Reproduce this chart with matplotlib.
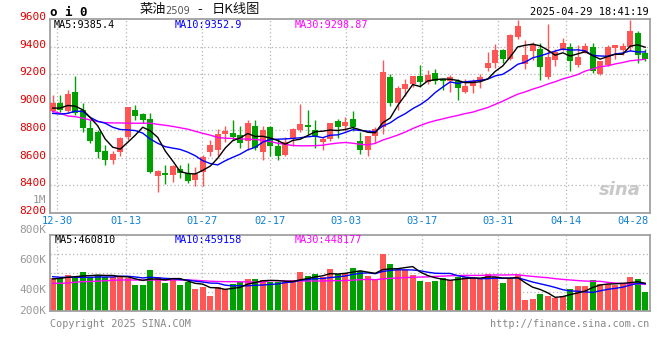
import numpy as np
import pandas as pd
import matplotlib
matplotlib.use("Agg")
import matplotlib.pyplot as plt
from matplotlib.transforms import blended_transform_factory

# ---------------- data ----------------
dates = ["12-27", "12-30", "12-31", "01-02", "01-03", "01-06", "01-07", "01-08", "01-09", "01-10",
         "01-13", "01-14", "01-15", "01-16", "01-17", "01-20", "01-21", "01-22", "01-23", "01-24",
         "01-27", "02-05", "02-06", "02-07", "02-10", "02-11", "02-12", "02-13", "02-14", "02-17",
         "02-18", "02-19", "02-20", "02-21", "02-24", "02-25", "02-26", "02-27", "02-28", "03-03",
         "03-04", "03-05", "03-06", "03-07", "03-10", "03-11", "03-12", "03-13", "03-14", "03-17",
         "03-18", "03-19", "03-20", "03-21", "03-24", "03-25", "03-26", "03-27", "03-28", "03-31",
         "04-01", "04-02", "04-03", "04-07", "04-08", "04-09", "04-10", "04-11", "04-14", "04-15",
         "04-16", "04-17", "04-18", "04-21", "04-22", "04-23", "04-24", "04-25", "04-28", "04-29"]

opens = [8938, 8995, 8933, 9071, 8943, 8810, 8786, 8648, 8586, 8638,
         8752, 8943, 8914, 8876, 8467, 8490, 8471, 8519, 8490, 8438,
         8495, 8643, 8652, 8771, 8776, 8762, 8717, 8829, 8643, 8819,
         8686, 8619, 8743, 8800, 8833, 8800, 8714, 8733, 8862, 8829,
         8878, 8720, 8653, 8753, 8820, 9184, 8993, 9093, 9132, 9189,
         9146, 9208, 9165, 9151, 9156, 9074, 9113, 9156, 9247, 9280,
         9376, 9314, 9467, 9275, 9371, 9386, 9180, 9304, 9376, 9395,
         9266, 9357, 9395, 9204, 9271, 9390, 9376, 9400, 9496, 9352]
highs = [9050, 9050, 9086, 9186, 8995, 8871, 8800, 8690, 8648, 8748,
         8967, 8976, 8924, 8924, 8510, 8548, 8548, 8543, 8562, 8529,
         8619, 8729, 8805, 8829, 8871, 8829, 8871, 8871, 8829, 8829,
         8733, 8748, 8810, 8990, 8943, 8871, 8748, 8848, 8876, 8890,
         8935, 8782, 8758, 8820, 9304, 9204, 9113, 9165, 9189, 9266,
         9232, 9237, 9170, 9199, 9170, 9170, 9165, 9204, 9362, 9419,
         9381, 9491, 9592, 9448, 9434, 9424, 9563, 9381, 9462, 9424,
         9410, 9424, 9424, 9300, 9410, 9410, 9424, 9592, 9515, 9381]
lows = [8931, 8931, 8924, 8910, 8788, 8707, 8595, 8548, 8552, 8610,
        8729, 8871, 8848, 8486, 8352, 8407, 8424, 8455, 8414, 8395,
        8395, 8610, 8610, 8710, 8724, 8671, 8657, 8657, 8581, 8614,
        8586, 8610, 8686, 8786, 8771, 8667, 8657, 8719, 8738, 8795,
        8792, 8629, 8614, 8705, 8768, 8974, 8940, 9046, 9108, 9108,
        9132, 9132, 9089, 9074, 9017, 9065, 9065, 9103, 9228, 9247,
        9280, 9304, 9453, 9242, 9304, 9160, 9165, 9261, 9371, 9228,
        9252, 9352, 9213, 9194, 9261, 9314, 9343, 9371, 9285, 9300]
closes = [8995, 8943, 9057, 8919, 8810, 8717, 8643, 8581, 8624, 8738,
          8962, 8900, 8871, 8495, 8500, 8474, 8538, 8486, 8429, 8481,
          8605, 8690, 8771, 8795, 8748, 8705, 8848, 8667, 8800, 8686,
          8614, 8714, 8805, 8843, 8819, 8752, 8733, 8848, 8824, 8857,
          8820, 8653, 8758, 8806, 9218, 8993, 9103, 9132, 9189, 9146,
          9194, 9151, 9156, 9180, 9103, 9113, 9156, 9184, 9280, 9376,
          9309, 9481, 9548, 9338, 9414, 9252, 9328, 9362, 9424, 9300,
          9328, 9405, 9223, 9295, 9395, 9410, 9405, 9515, 9343, 9309]
volumes_k = [491, 496, 513, 502, 533, 502, 513, 502, 502, 498,
             491, 447, 447, 549, 498, 462, 491, 447, 469, 420,
             436, 376, 436, 420, 453, 469, 487, 487, 480, 464,
             464, 464, 480, 533, 507, 520, 500, 553, 520, 529,
             562, 542, 509, 480, 653, 587, 547, 547, 513, 473,
             469, 473, 496, 480, 502, 498, 491, 491, 520, 502,
             460, 487, 513, 347, 353, 384, 376, 362, 371, 420,
             440, 440, 480, 453, 453, 447, 456, 500, 487, 400]

ma5_head = [8957, 8957, 8976, 8971]
ma10_head = [8919, 8914, 8919, 8935, 8933, 8890, 8862, 8848, 8819]
ma30_head = [8933, 8920, 8900, 8895, 8885, 8871, 8860, 8852, 8850, 8850,
             8848, 8848, 8848, 8848, 8840, 8833, 8825, 8815, 8805, 8790,
             8775, 8762, 8745, 8740, 8738, 8735, 8733, 8730, 8726]
vma5_head = [487, 491, 498, 502]
vma10_head = [502, 498, 498, 498, 498, 498, 500, 500, 500]
vma30_head = [458, 458, 460, 465, 469, 470, 472, 475, 478, 480,
              480, 480, 480, 480, 480, 480, 480, 480, 480, 478,
              475, 472, 470, 469, 469, 468, 467, 466, 465]

tick_dates = ["12-30", "01-13", "01-27", "02-17", "03-03", "03-17", "03-31", "04-14", "04-28"]
price_ticks = [9600, 9400, 9200, 9000, 8800, 8600, 8400, 8200]
vol_tick_values = [1000, 800, 600, 400, 200]
vol_tick_labels = ["1M", "800K", "600K", "400K", "200K"]

title_name = "菜油"
title_code = "2509"
title_dash = "-"
title_rest = "日K线图"
stamp = "2025-04-29 18:41:19"
ma_texts = ["MA5:9385.4", "MA10:9352.9", "MA30:9298.87"]
vma_texts = ["MA5:460810", "MA10:459158", "MA30:448177"]

# ---------------- helpers ----------------
def moving(values, n, head):
    s = pd.Series(values, dtype=float).rolling(n).mean().to_numpy()
    s[:len(head)] = head
    return s

RED = "#ff5555"
GREEN = "#00a000"
FRAME = "#a0a0a0"
GRID = "#b4b4b4"
MONO = "DejaVu Sans Mono"
CJK = ["Noto Sans CJK SC", "DejaVu Sans"]

o = np.array(opens, float); h = np.array(highs, float)
l = np.array(lows, float); c = np.array(closes, float)
v = np.array(volumes_k, float)
x = np.arange(len(dates))
up = c >= o
cols = np.where(up, RED, GREEN)

W, H = 660, 360
fig = plt.figure(figsize=(6.6, 3.6), dpi=100)
fig.patch.set_facecolor("white")

def fx(px):
    return px / W

def fy(py):
    return 1 - py / H

ax = fig.add_axes([fx(50), fy(213), fx(600), (213 - 19) / H])
axv = fig.add_axes([fx(50), fy(311), fx(600), (311 - 235) / H])

xlim = (-0.36, len(dates) - 0.36)
for a in (ax, axv):
    a.set_xlim(*xlim)
    for s in a.spines.values():
        s.set_color(FRAME)
        s.set_linewidth(1.3)
    a.tick_params(length=0, labelbottom=False, labelleft=False)
    a.set_xticks([])

# vertical grid positions (chart draws them on a slightly wider spacing)
grid_idx = [dates.index(d) for d in tick_dates]
grid_x = [0.61 + (d - 1) * 1.0125 for d in grid_idx]

# ---------------- price panel ----------------
ax.set_ylim(8200, 9600)
for yv in price_ticks[1:-1]:
    ax.axhline(yv, color=GRID, lw=0.9, ls=(0, (1, 2)), zorder=0)
for gx in grid_x[:-1]:
    ax.axvline(gx, color=GRID, lw=0.9, ls=(0, (1, 2)), zorder=0)
    axv.axvline(gx, color=GRID, lw=0.9, ls=(0, (1, 2)), zorder=0)

ax.vlines(x, l, h, colors=cols, lw=1.0, zorder=2)
body_h = np.maximum(np.abs(c - o), 4)
ax.bar(x, body_h, bottom=np.minimum(o, c), width=0.76, color=cols, lw=0, zorder=3)

ma5 = moving(closes, 5, ma5_head)
ma10 = moving(closes, 10, ma10_head)
ma30 = moving(closes, 30, ma30_head)
ax.plot(x, ma30, color="#ff00ff", lw=1.0, zorder=4)
ax.plot(x, ma10, color="#0000ff", lw=1.0, zorder=4)
ax.plot(x, ma5, color="#000000", lw=1.0, zorder=5)

tr = blended_transform_factory(ax.transAxes, ax.transData)
for p in price_ticks:
    ax.text(-0.006, p + 14, str(p), transform=tr, ha="right", va="center",
            color="#dd0000", fontsize=8, family=MONO, clip_on=False)

for txt, px_, col in zip(ma_texts, [54, 175, 295], ["#000000", "#0000ff", "#ff00ff"]):
    fig.text(fx(px_), fy(25), txt, ha="left", va="center", color=col, fontsize=7.3, family=MONO)

# x labels
trx = blended_transform_factory(ax.transData, fig.transFigure)
for i, (d, gx) in enumerate(zip(tick_dates, grid_x)):
    if i == len(tick_dates) - 1:
        ax.text(xlim[1] - 0.2, fy(221), d, transform=trx, ha="right", va="center",
                color="#1080d0", fontsize=7.5, family=MONO, clip_on=False)
    else:
        ax.text(gx, fy(221), d, transform=trx, ha="center", va="center",
                color="#1080d0", fontsize=7.5, family=MONO, clip_on=False)

# watermark
ax.text(0.985, 0.12, "sina", transform=ax.transAxes, ha="right", va="center",
        color="#c8c8c8", fontsize=13, fontweight="bold", style="italic", zorder=1)

# ---------------- volume panel ----------------
vlo = 400 - (311 - 292) * 200 / 30
vhi = 400 + (292 - 235) * 200 / 30
axv.set_ylim(vlo, vhi)
for k in (1, 2, 3):
    axv.axhline(vlo + (vhi - vlo) * k / 4, color=GRID, lw=0.9, ls=(0, (1, 2)), zorder=0)
axv.bar(x, v - vlo, bottom=vlo, width=0.76, color=cols, lw=0, zorder=2)
vma5 = moving(volumes_k, 5, vma5_head)
vma10 = moving(volumes_k, 10, vma10_head)
vma30 = moving(volumes_k, 30, vma30_head)
axv.plot(x, vma30, color="#ff00ff", lw=1.0, zorder=3)
axv.plot(x, vma10, color="#0000ff", lw=1.0, zorder=3)
axv.plot(x, vma5, color="#000000", lw=1.0, zorder=4)

trv = blended_transform_factory(axv.transAxes, axv.transData)
for val, lab in zip(vol_tick_values, vol_tick_labels):
    yy = max(val + 14, vlo)
    axv.text(-0.006, yy, lab, transform=trv, ha="right", va="center",
             color="#999999", fontsize=8, family=MONO, clip_on=False)

for txt, px_, col in zip(vma_texts, [55, 175, 295], ["#000000", "#0000ff", "#ff00ff"]):
    fig.text(fx(px_), fy(240), txt, ha="left", va="center", color=col, fontsize=7.3, family=MONO)

# ---------------- header / footer ----------------
fig.text(fx(50), fy(12), "o i 0", ha="left", va="center", color="#000000",
         fontsize=9, fontweight="bold", family=MONO)
fig.text(fx(140), fy(10), title_name, ha="left", va="center", color="#111111",
         fontsize=9.5, family=CJK)
fig.text(fx(165), fy(11), title_code, ha="left", va="center", color="#555555",
         fontsize=7, family="DejaVu Sans")
fig.text(fx(200), fy(10), title_dash, ha="center", va="center", color="#111111",
         fontsize=9.5, family="DejaVu Sans")
fig.text(fx(212), fy(10), title_rest, ha="left", va="center", color="#111111",
         fontsize=9.5, family=CJK)
fig.text(fx(649), fy(12), stamp, ha="right", va="center", color="#000000",
         fontsize=7.5, family=MONO)
fig.text(fx(50), fy(324), "Copyright 2025 SINA.COM", ha="left", va="center",
         color="#888888", fontsize=7.3, family=MONO)
fig.text(fx(649), fy(324), "http://finance.sina.com.cn", ha="right", va="center",
         color="#888888", fontsize=7.3, family=MONO)

fig.savefig("out.png", dpi=100, facecolor="white")
